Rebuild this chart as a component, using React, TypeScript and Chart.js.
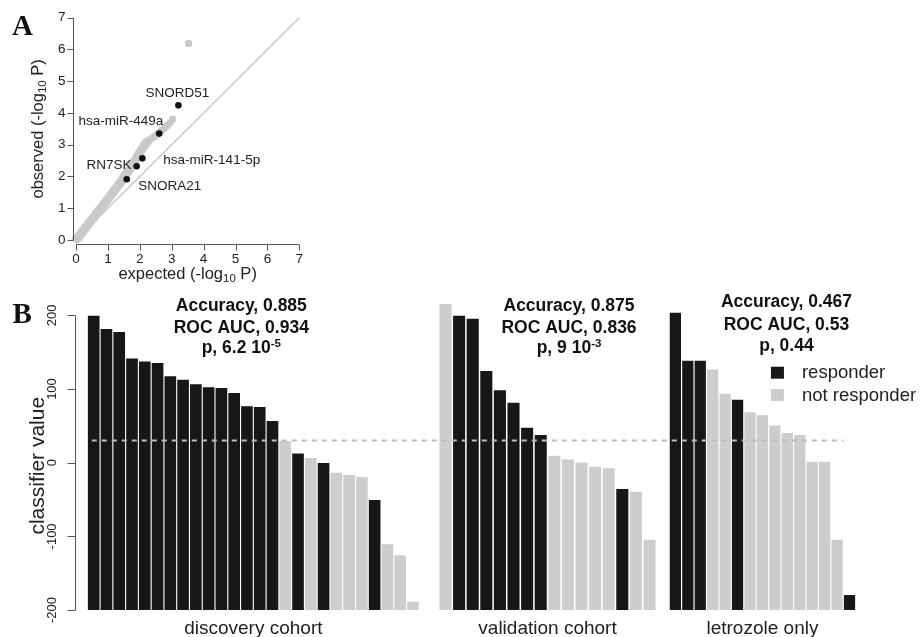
import React, { useEffect, useRef } from 'react';
import { Chart, registerables } from 'chart.js';

Chart.register(...registerables);

// ---------------- Panel A data (QQ plot) ----------------
const qqExpected = [0.02, 0.08, 0.15, 0.22, 0.3, 0.38, 0.46, 0.54, 0.62, 0.7, 0.78, 0.86, 0.94, 1.02, 1.1, 1.18, 1.26, 1.34, 1.42, 1.5, 1.58, 1.66, 1.74, 1.82, 1.9, 1.98, 2.06, 2.14, 2.22, 2.3, 2.38, 2.46, 2.54, 2.62, 2.7, 2.78, 2.86, 2.94, 3.03, 3.53];
const qqObserved = [0.04, 0.1, 0.19, 0.28, 0.38, 0.49, 0.59, 0.69, 0.8, 0.9, 1.0, 1.11, 1.21, 1.31, 1.42, 1.53, 1.63, 1.74, 1.84, 1.98, 2.09, 2.19, 2.34, 2.45, 2.58, 2.72, 2.85, 2.97, 3.07, 3.15, 3.2, 3.26, 3.32, 3.4, 3.46, 3.53, 3.6, 3.68, 3.8, 6.19];
const hitNames = ['SNORD51', 'hsa-miR-449a', 'hsa-miR-141-5p', 'RN7SK', 'SNORA21'];
const hitExpected = [3.21, 2.61, 2.08, 1.9, 1.59];
const hitObserved = [4.24, 3.35, 2.57, 2.32, 1.91];
const qqTicks = [0, 1, 2, 3, 4, 5, 6, 7];

// ---------------- Panel B data (classifier bars) ----------------
const cohortNames = ['discovery cohort', 'validation cohort', 'letrozole only'];
const discoveryValues = [199, 181, 177, 141, 137, 135, 117, 112, 106, 102, 101, 94, 76, 75, 56, 29, 12, 6, -1, -14, -17, -20, -51, -111, -126, -189];
const discoveryResponder = [1, 1, 1, 1, 1, 1, 1, 1, 1, 1, 1, 1, 1, 1, 1, 0, 1, 0, 1, 0, 0, 0, 1, 0, 0, 0];
const validationValues = [215, 199, 195, 124, 98, 81, 47, 37, 9, 4, 0, -6, -8, -36, -40, -105];
const validationResponder = [0, 1, 1, 1, 1, 1, 1, 1, 0, 0, 0, 0, 0, 1, 0, 0];
const letrozoleValues = [203, 138, 138, 126, 93, 85, 68, 64, 50, 40, 37, 1, 1, -105, -180];
const letrozoleResponder = [1, 1, 1, 0, 0, 1, 0, 0, 0, 0, 0, 0, 0, 0, 1];
const accuracyLabels = ['0.885', '0.875', '0.467'];
const rocAucLabels = ['0.934', '0.836', '0.53'];
const pMantissa = ['6.2 10', '9 10', '0.44'];
const pExponent = ['-5', '-3', ''];
const threshold = 30;
const classifierTicks = [-200, -100, 0, 100, 200];
const legendLabels = ['responder', 'not responder'];

// ---------------- styles / layout ----------------
const SANS = '"Liberation Sans", Arial, Helvetica, sans-serif';
const SERIF = '"Liberation Serif", "Times New Roman", serif';
const BLACK = '#171717';
const GREY = '#cdcdcd';
const QQ_GREY = '#c9c9c9';
const AXIS = '#555555';
const TEXT = '#222222';

const groupStart = [0, 27.55, 45.55];
const groupStep = [1, 1.065, 0.974];
const groupBarPx = [11, 11.4, 10.6];
const annotDx = [-12, 21.5, 24];
const annotBase = [[30.5, 52.5, 73], [30.5, 52.5, 73], [27.3, 50, 70.5]];
const hitLabelStyle = [
  { dx: -1, dy: -12.3, align: 'center' },
  { dx: 4, dy: -12, align: 'right' },
  { dx: 21, dy: 1.6, align: 'left' },
  { dx: -5, dy: -1.3, align: 'right' },
  { dx: 11.6, dy: 6.5, align: 'left' },
];

type Part = { t: string; size: number; dy?: number; bold?: boolean };

function drawParts(ctx: CanvasRenderingContext2D, parts: Part[], x: number, y: number, align: string) {
  const fonts = parts.map((p) => `${p.bold ? 'bold ' : ''}${p.size}px ${SANS}`);
  const widths = parts.map((p, i) => {
    ctx.font = fonts[i];
    return ctx.measureText(p.t).width;
  });
  const total = widths.reduce((a, b) => a + b, 0);
  let cx = align === 'left' ? x : align === 'center' ? x - total / 2 : x - total;
  ctx.textAlign = 'left';
  parts.forEach((p, i) => {
    ctx.font = fonts[i];
    ctx.fillText(p.t, cx, y + (p.dy || 0));
    cx += widths[i];
  });
}

const axesA = {
  id: 'axesA',
  afterDraw(chart: any) {
    const ctx: CanvasRenderingContext2D = chart.ctx;
    const xs = chart.scales.x;
    const ys = chart.scales.y;
    const { left, bottom } = chart.chartArea;
    ctx.save();
    ctx.strokeStyle = AXIS;
    ctx.lineWidth = 1;
    const t0 = qqTicks[0];
    const t1 = qqTicks[qqTicks.length - 1];
    const ax = Math.round(left) + 0.5;
    ctx.beginPath();
    ctx.moveTo(ax, ys.getPixelForValue(t0));
    ctx.lineTo(ax, ys.getPixelForValue(t1));
    qqTicks.forEach((t) => {
      const py = Math.round(ys.getPixelForValue(t)) + 0.5;
      ctx.moveTo(ax, py);
      ctx.lineTo(ax - 6, py);
    });
    const ay = Math.round(bottom) + 0.5;
    ctx.moveTo(xs.getPixelForValue(t0), ay);
    ctx.lineTo(xs.getPixelForValue(t1), ay);
    qqTicks.forEach((t) => {
      const px = Math.round(xs.getPixelForValue(t)) + 0.5;
      ctx.moveTo(px, ay);
      ctx.lineTo(px, ay + 6);
    });
    ctx.stroke();

    ctx.fillStyle = TEXT;
    ctx.font = `13.5px ${SANS}`;
    ctx.textBaseline = 'middle';
    ctx.textAlign = 'right';
    qqTicks.forEach((t) => ctx.fillText(String(t), ax - 8, ys.getPixelForValue(t)));
    ctx.textAlign = 'center';
    qqTicks.forEach((t) => ctx.fillText(String(t), xs.getPixelForValue(t), ay + 15));

    ctx.textBaseline = 'alphabetic';
    const mid = (t0 + t1) / 2;
    const title = (w: string): Part[] => [
      { t: `${w} (-log`, size: 16.5 },
      { t: '10', size: 11.5, dy: 3 },
      { t: ' P)', size: 16.5 },
    ];
    drawParts(ctx, title('expected'), xs.getPixelForValue(mid), ay + 34, 'center');
    ctx.save();
    ctx.translate(43, ys.getPixelForValue(mid));
    ctx.rotate(-Math.PI / 2);
    drawParts(ctx, title('observed'), 0, 0, 'center');
    ctx.restore();

    ctx.font = `13.5px ${SANS}`;
    ctx.textBaseline = 'middle';
    hitNames.forEach((name, i) => {
      const st = hitLabelStyle[i];
      ctx.textAlign = st.align as CanvasTextAlign;
      ctx.fillText(name, xs.getPixelForValue(hitExpected[i]) + st.dx, ys.getPixelForValue(hitObserved[i]) + st.dy);
    });

    ctx.textAlign = 'left';
    ctx.textBaseline = 'alphabetic';
    ctx.font = `bold 29px ${SERIF}`;
    ctx.fillStyle = '#111';
    ctx.fillText('A', 12, 35);
    ctx.restore();
  },
};

const groupValues = [discoveryValues, validationValues, letrozoleValues];
const groupResponder = [discoveryResponder, validationResponder, letrozoleResponder];
const posOf = (g: number, i: number) => groupStart[g] + i * groupStep[g];
const groupCenter = (g: number) => posOf(g, (groupValues[g].length - 1) / 2);

const decorB = {
  id: 'decorB',
  afterDatasetsDraw(chart: any) {
    const ctx: CanvasRenderingContext2D = chart.ctx;
    const xs = chart.scales.x;
    const ys = chart.scales.y;
    ctx.save();
    ctx.strokeStyle = '#bcbcbc';
    ctx.lineWidth = 2;
    ctx.setLineDash([5, 5]);
    const y = ys.getPixelForValue(threshold);
    ctx.beginPath();
    ctx.moveTo(xs.getPixelForValue(posOf(0, 0) - 0.15), y);
    ctx.lineTo(xs.getPixelForValue(posOf(2, letrozoleValues.length - 1.5)), y);
    ctx.stroke();
    ctx.restore();
  },
  afterDraw(chart: any) {
    const ctx: CanvasRenderingContext2D = chart.ctx;
    const xs = chart.scales.x;
    const ys = chart.scales.y;
    const { left } = chart.chartArea;
    ctx.save();
    ctx.strokeStyle = AXIS;
    ctx.lineWidth = 1;
    const ax = Math.round(left) + 0.5;
    const tMin = classifierTicks[0];
    const tMax = classifierTicks[classifierTicks.length - 1];
    ctx.beginPath();
    ctx.moveTo(ax, ys.getPixelForValue(tMin));
    ctx.lineTo(ax, ys.getPixelForValue(tMax));
    classifierTicks.forEach((t) => {
      const py = Math.round(ys.getPixelForValue(t)) + 0.5;
      ctx.moveTo(ax, py);
      ctx.lineTo(ax - 8, py);
    });
    ctx.stroke();
    ctx.fillStyle = TEXT;
    ctx.font = `13px ${SANS}`;
    ctx.textAlign = 'center';
    ctx.textBaseline = 'middle';
    classifierTicks.forEach((t) => {
      ctx.save();
      ctx.translate(ax - 23, ys.getPixelForValue(t));
      ctx.rotate(-Math.PI / 2);
      ctx.fillText(String(t), 0, 0);
      ctx.restore();
    });
    ctx.save();
    ctx.font = `21px ${SANS}`;
    ctx.translate(ax - 37, ys.getPixelForValue(0) + 3);
    ctx.rotate(-Math.PI / 2);
    ctx.fillText('classifier value', 0, 0);
    ctx.restore();

    ctx.textBaseline = 'alphabetic';
    ctx.font = `19px ${SANS}`;
    cohortNames.forEach((n, g) => ctx.fillText(n, xs.getPixelForValue(groupCenter(g)), 353.5));

    ctx.fillStyle = '#111';
    cohortNames.forEach((_, g) => {
      const cx = xs.getPixelForValue(groupCenter(g)) + annotDx[g];
      const b = annotBase[g];
      drawParts(ctx, [{ t: `Accuracy, ${accuracyLabels[g]}`, size: 17.5, bold: true }], cx, b[0], 'center');
      drawParts(ctx, [{ t: `ROC AUC, ${rocAucLabels[g]}`, size: 17.5, bold: true }], cx, b[1], 'center');
      const parts: Part[] = [{ t: `p, ${pMantissa[g]}`, size: 17.5, bold: true }];
      if (pExponent[g]) parts.push({ t: pExponent[g], size: 11.5, dy: -6.5, bold: true });
      drawParts(ctx, parts, cx, b[2], 'center');
    });

    const lx = xs.getPixelForValue(groupCenter(2)) + 8.5;
    const lys = [92.7, 115];
    const colors = [BLACK, GREY];
    ctx.font = `18.5px ${SANS}`;
    ctx.textAlign = 'left';
    ctx.textBaseline = 'middle';
    legendLabels.forEach((lab, i) => {
      ctx.fillStyle = colors[i];
      ctx.fillRect(lx, lys[i] - 6, 13, 12);
      ctx.fillStyle = TEXT;
      ctx.fillText(lab, lx + 31, lys[i] + 0.5);
    });

    ctx.textBaseline = 'alphabetic';
    ctx.font = `bold 29px ${SERIF}`;
    ctx.fillStyle = '#111';
    ctx.fillText('B', 12.5, 43.3);
    ctx.restore();
  },
};

export default function App() {
  const refA = useRef<HTMLCanvasElement>(null);
  const refB = useRef<HTMLCanvasElement>(null);

  useEffect(() => {
    const chartA = new Chart(refA.current as HTMLCanvasElement, {
      type: 'scatter',
      data: {
        datasets: [
          {
            label: 'hits',
            data: hitExpected.map((x, i) => ({ x, y: hitObserved[i] })),
            backgroundColor: '#111111',
            borderWidth: 0,
            pointRadius: 3.3,
            clip: false,
            order: 0,
          } as any,
          {
            label: 'all',
            data: qqExpected.map((x, i) => ({ x, y: qqObserved[i] })),
            backgroundColor: QQ_GREY,
            borderWidth: 0,
            pointRadius: (c: any) => (qqExpected[c.dataIndex] < 2.3 ? 4.8 : 3.7),
            clip: false,
            order: 1,
          } as any,
          {
            type: 'line',
            label: 'identity',
            data: [
              { x: qqTicks[0], y: qqTicks[0] },
              { x: qqTicks[qqTicks.length - 1], y: qqTicks[qqTicks.length - 1] },
            ],
            borderColor: QQ_GREY,
            borderWidth: 1.6,
            pointRadius: 0,
            clip: false,
            order: 2,
          } as any,
        ],
      },
      options: {
        animation: false,
        responsive: false,
        events: [],
        layout: { padding: { left: 72.5, right: 20.7, top: 17.7, bottom: 45.9 } },
        plugins: { legend: { display: false }, tooltip: { enabled: false } },
        scales: {
          x: { type: 'linear', min: -0.11, max: 7, display: false, offset: false },
          y: { type: 'linear', min: -0.13, max: 7, display: false },
        },
      },
      plugins: [axesA],
    });

    const chartB = new Chart(refB.current as HTMLCanvasElement, {
      type: 'bar',
      data: {
        datasets: groupValues.map((vals, g) => ({
          label: cohortNames[g],
          data: vals.map((v, i) => ({ x: posOf(g, i), y: v })),
          backgroundColor: groupResponder[g].map((r) => (r ? BLACK : GREY)),
          borderWidth: 0,
          base: -200,
          barThickness: groupBarPx[g],
          grouped: false,
        })) as any,
      },
      options: {
        animation: false,
        responsive: false,
        events: [],
        layout: { padding: { left: 75, right: 51, top: 16.9, bottom: 26.9 } },
        plugins: { legend: { display: false }, tooltip: { enabled: false } },
        scales: {
          x: { type: 'linear', min: -1.4644, max: 60.791, display: false, offset: false, bounds: 'ticks' },
          y: { type: 'linear', min: -200, max: 225, display: false },
        },
      },
      plugins: [decorB],
    });

    return () => {
      chartA.destroy();
      chartB.destroy();
    };
  }, []);

  return (
    <div style={{ position: 'absolute', left: 0, top: 0, width: 921, height: 637, background: '#ffffff' }}>
      <canvas ref={refA} width={320} height={290} style={{ position: 'absolute', left: 0, top: 0 }} />
      <canvas ref={refB} width={921} height={357} style={{ position: 'absolute', left: 0, top: 280 }} />
    </div>
  );
}
